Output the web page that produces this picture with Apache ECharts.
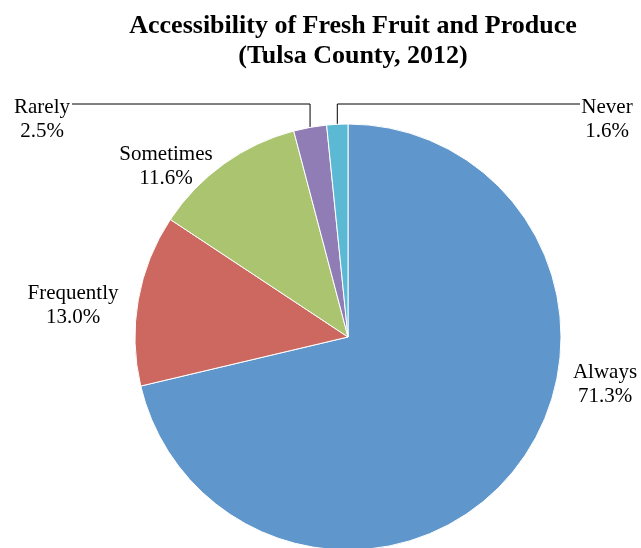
<!DOCTYPE html>
<html>
<head>
<meta charset="utf-8">
<script src="https://cdn.jsdelivr.net/npm/echarts@6/dist/echarts.min.js"></script>
<style>
  html, body { margin: 0; padding: 0; background: #fff; }
  #main { width: 641px; height: 548px; }
</style>
</head>
<body>
<div id="main"></div>
<script>
	// data
	var categories = ['Always', 'Frequently', 'Sometimes', 'Rarely', 'Never'];
	var percents = [71.3, 13.0, 11.6, 2.5, 1.6];
	var colors = ['#5F96CB', '#CC6860', '#AAC46F', '#917DB5', '#5CB9D3'];

	var serif = '"Liberation Serif", "Times New Roman", serif';
	var cx = 348, cy = 337, R = 213;

	// labels placed next to the pie without a leader line (offset from centre)
	var freeLabels = {
		Always: [257, 47],
		Frequently: [-275, -32],
		Sometimes: [-182, -171]
	};
	// labels with elbow leader lines: [line end x, line y, label centre x]
	var lineLabels = {
		Rarely: [72, 104, 42],
		Never: [580, 104, 607]
	};

	// angle (clockwise from 12 o'clock) of the middle of a slice
	function midAngle(idx) {
		var total = 0, before = 0;
		for (var k = 0; k < percents.length; k++) {
			total += percents[k];
			if (k < idx) before += percents[k];
		}
		return (before + percents[idx] / 2) / total * Math.PI * 2;
	}

	var chart = echarts.init(document.getElementById('main'));

	var seriesData = [];
	for (var i = 0; i < categories.length; i++) {
		seriesData.push({
			name: categories[i],
			value: percents[i],
			itemStyle: { color: colors[i] },
			labelLine: { show: !!lineLabels[categories[i]] }
		});
	}

	var option = {
		animation: false,
		backgroundColor: '#fff',
		title: {
			text: 'Accessibility of Fresh Fruit and Produce\n(Tulsa County, 2012)',
			left: cx,
			top: 6,
			textAlign: 'center',
			textStyle: {
				fontFamily: serif,
				fontSize: 26,
				fontWeight: 'bold',
				color: '#000',
				lineHeight: 30
			}
		},
		series: [{
			type: 'pie',
			center: [cx, cy],
			radius: R,
			startAngle: 90,
			clockwise: true,
			avoidLabelOverlap: false,
			itemStyle: { borderColor: '#fff', borderWidth: 1 },
			label: {
				show: true,
				position: 'outside',
				fontFamily: serif,
				fontSize: 21,
				color: '#000',
				lineHeight: 24,
				formatter: function (p) {
					return '{c|' + p.name + '}\n{c|' + p.value.toFixed(1) + '%}';
				},
				rich: { c: { width: 110, align: 'center', lineHeight: 24 } }
			},
			labelLine: {
				length: 10,
				length2: 10,
				lineStyle: { color: '#000', width: 1 }
			},
			labelLayout: function (params) {
				var name = categories[params.dataIndex];
				var off = freeLabels[name];
				if (off) {
					return {
						x: cx + off[0],
						y: cy + off[1],
						align: 'center',
						verticalAlign: 'middle'
					};
				}
				var ll = lineLabels[name];
				var a = midAngle(params.dataIndex);
				var ex = cx + R * Math.sin(a);
				var ey = cy - R * Math.cos(a);
				return {
					x: ll[2],
					y: ll[1] + 15,
					align: 'center',
					verticalAlign: 'middle',
					labelLinePoints: [[ex, ey], [ex, ll[1]], [ll[0], ll[1]]]
				};
			},
			emphasis: { disabled: true },
			data: seriesData
		}]
	};

	chart.setOption(option);
</script>
</body>
</html>
